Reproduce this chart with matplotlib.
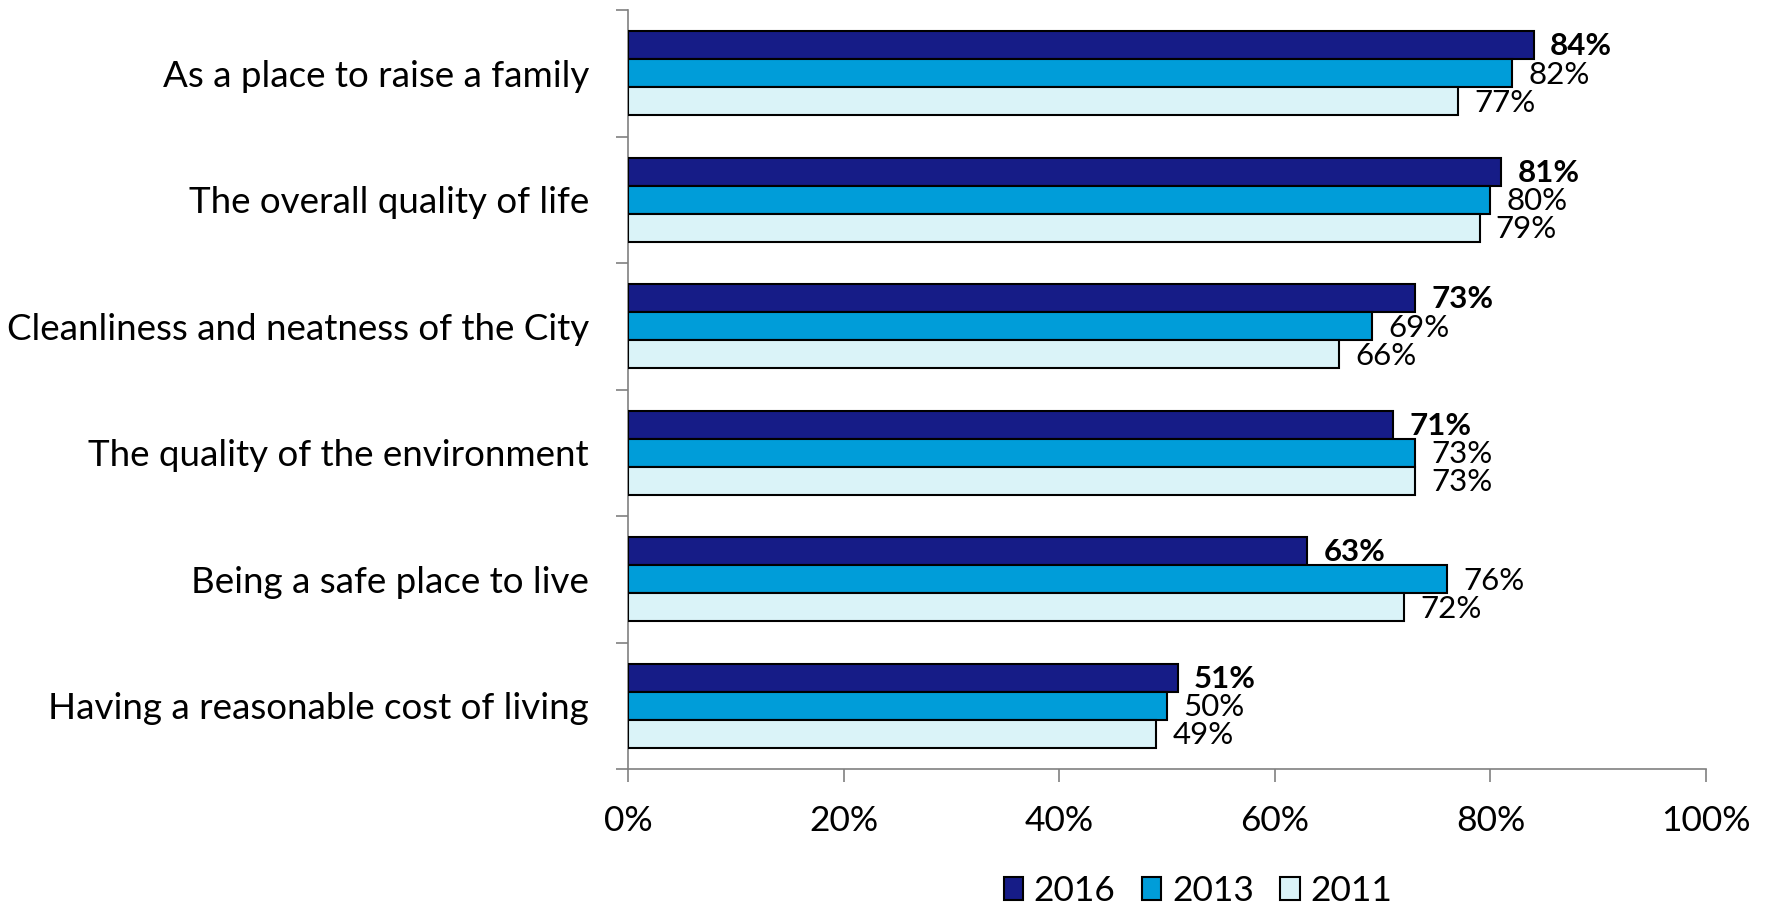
import matplotlib
matplotlib.use("Agg")
import matplotlib.pyplot as plt
import numpy as np
from matplotlib.ticker import FixedLocator, PercentFormatter

plt.rcParams['font.family'] = ['Lato', 'DejaVu Sans']

categories = [
    "As a place to raise a family",
    "The overall quality of life",
    "Cleanliness and neatness of the City",
    "The quality of the environment",
    "Being a safe place to live",
    "Having a reasonable cost of living",
]
years = ["2016", "2013", "2011"]
values_2016 = [84, 81, 73, 71, 63, 51]
values_2013 = [82, 80, 69, 73, 76, 50]
values_2011 = [77, 79, 66, 73, 72, 49]
x_ticks = [0, 20, 40, 60, 80, 100]

series = [values_2016, values_2013, values_2011]
colors = ["#161C87", "#009DD9", "#DAF3F8"]
label_weights = ["bold", "normal", "normal"]

W, H = 1767, 909
fig = plt.figure(figsize=(W / 100, H / 100), dpi=100)
ax = fig.add_axes([628 / W, 1 - 769 / H, (1706 - 628) / W, (769 - 10) / H])

y = np.arange(len(categories))
bar_h = 0.222
offsets = [-bar_h, 0, bar_h]

bars_all = []
for vals, col, off, wt, yr in zip(series, colors, offsets, label_weights, years):
    bars = ax.barh(y + off, vals, height=bar_h, color=col, edgecolor="black",
                   linewidth=1.5, label=yr, zorder=3)
    bars_all.append(bars)
    for rect, v in zip(bars, vals):
        ax.text(v + 1.5, rect.get_y() + rect.get_height() / 2 + 0.01, f"{v}%",
                ha="left", va="center", fontsize=22.5, fontweight=wt, color="black")

ax.set_xlim(0, 100)
ax.set_ylim(len(categories) - 0.5, -0.5)

ax.xaxis.set_major_locator(FixedLocator(x_ticks))
ax.xaxis.set_major_formatter(PercentFormatter(decimals=0))
ax.tick_params(axis="x", direction="out", length=9, width=1.2, color="#808080",
               labelsize=25.5, pad=17)

ax.set_yticks(y)
ax.set_yticklabels(categories)
ax.yaxis.set_minor_locator(FixedLocator(np.arange(-0.5, len(categories), 1.0)))
ax.tick_params(axis="y", which="major", length=0, labelsize=26.5, pad=28)
ax.tick_params(axis="y", which="minor", direction="out", length=9, width=1.2,
               color="#808080")

for side in ("top", "right"):
    ax.spines[side].set_visible(False)
for side in ("left", "bottom"):
    ax.spines[side].set_color("#808080")
    ax.spines[side].set_linewidth(1.2)

leg = fig.legend(handles=bars_all, labels=years, loc="center",
                 bbox_to_anchor=(1198 / W, 1 - 891 / H), ncol=3, frameon=False,
                 fontsize=25.5, handlelength=0.55, handleheight=0.6,
                 handletextpad=0.3, columnspacing=0.75)

fig.savefig("out.png", dpi=100, facecolor="white")
